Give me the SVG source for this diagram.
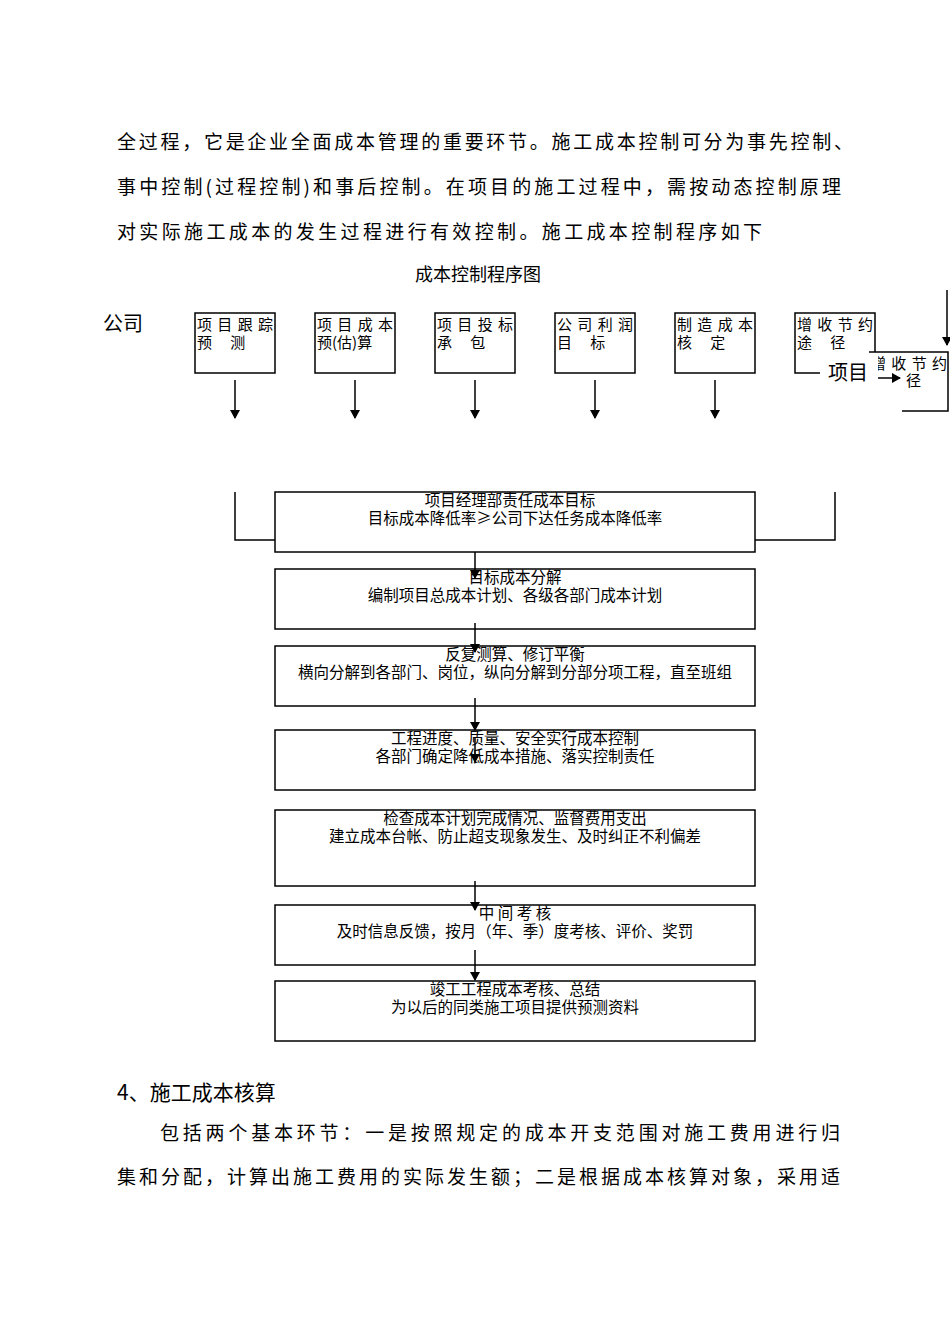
<svg xmlns="http://www.w3.org/2000/svg" width="950" height="1344" viewBox="0 0 950 1344">
<style>
text{font-family:"Noto Sans CJK SC","Noto Sans",sans-serif;fill:#000}
.p{font-size:19px}
.s{font-size:15px}
.c{font-size:15.5px;text-anchor:middle}
.b{fill:#fff;stroke:#000;stroke-width:1.5}
.l{fill:none;stroke:#000;stroke-width:1.5}
</style>
<defs><marker id="a" markerWidth="10" markerHeight="10" refX="8" refY="5" orient="auto" markerUnits="userSpaceOnUse"><path d="M0,0L9,5L0,10z"/></marker></defs>
<text class="p" x="117" y="149" textLength="736">全过程，它是企业全面成本管理的重要环节。施工成本控制可分为事先控制、</text>
<text class="p" x="117" y="194" textLength="724">事中控制(过程控制)和事后控制。在项目的施工过程中，需按动态控制原理</text>
<text class="p" x="117" y="239" textLength="645">对实际施工成本的发生过程进行有效控制。施工成本控制程序如下</text>
<text x="478" y="281" style="font-size:18px;text-anchor:middle">成本控制程序图</text>
<text x="103" y="331" style="font-size:20px">公司</text>
<g id="top1"><rect class="b" x="195" y="313" width="80" height="60"/><text class="s" x="197" y="330" textLength="76">项目跟踪</text><text class="s" x="197" y="348">预　 测</text></g>
<g id="top2"><rect class="b" x="315" y="313" width="80" height="60"/><text class="s" x="317" y="330" textLength="76">项目成本</text><text class="s" x="317" y="348">预(估)算</text></g>
<g id="top3"><rect class="b" x="435" y="313" width="80" height="60"/><text class="s" x="437" y="330" textLength="76">项目投标</text><text class="s" x="437" y="348">承　 包</text></g>
<g id="top4"><rect class="b" x="555" y="313" width="80" height="60"/><text class="s" x="557" y="330" textLength="76">公司利润</text><text class="s" x="557" y="348">目　 标</text></g>
<g id="top5"><rect class="b" x="675" y="313" width="80" height="60"/><text class="s" x="677" y="330" textLength="76">制造成本</text><text class="s" x="677" y="348">核　 定</text></g>
<g id="top6"><path class="l" d="M875,352V313H795V373H820"/><text class="s" x="797" y="330" textLength="76">增收节约</text><text class="s" x="797" y="348">途　 径</text></g>
<g id="top7"><path class="l" d="M869,352H948V411H902"/><text class="s" x="871" y="369" textLength="76">增收节约</text><text class="s" x="906" y="386">径</text><rect x="826" y="356" width="52" height="28" fill="#fff"/><text x="828" y="380" style="font-size:20px">项目</text></g>
<g id="m1"><rect class="b" x="275" y="492" width="480" height="60"/><text class="c" x="510" y="506">项目经理部责任成本目标</text><text class="c" x="515" y="524">目标成本降低率≥公司下达任务成本降低率</text></g>
<g id="m2"><rect class="b" x="275" y="569" width="480" height="60"/><text class="c" x="515" y="583">目标成本分解</text><text class="c" x="515" y="601">编制项目总成本计划、各级各部门成本计划</text></g>
<g id="m3"><rect class="b" x="275" y="646" width="480" height="60"/><text class="c" x="515" y="660">反复测算、修订平衡</text><text class="c" x="515" y="678">横向分解到各部门、岗位，纵向分解到分部分项工程，直至班组</text></g>
<g id="m4"><rect class="b" x="275" y="730" width="480" height="60"/><text class="c" x="515" y="744">工程进度、质量、安全实行成本控制</text><text class="c" x="515" y="762">各部门确定降低成本措施、落实控制责任</text></g>
<g id="m5"><rect class="b" x="275" y="810" width="480" height="76"/><text class="c" x="515" y="824">检查成本计划完成情况、监督费用支出</text><text class="c" x="515" y="842">建立成本台帐、防止超支现象发生、及时纠正不利偏差</text></g>
<g id="m6"><rect class="b" x="275" y="905" width="480" height="60"/><text class="c" x="515" y="919">中 间 考 核</text><text class="c" x="515" y="937">及时信息反馈，按月（年、季）度考核、评价、奖罚</text></g>
<g id="m7"><rect class="b" x="275" y="981" width="480" height="60"/><text class="c" x="515" y="995">竣工工程成本考核、总结</text><text class="c" x="515" y="1013">为以后的同类施工项目提供预测资料</text></g>
<g id="connectors" class="l" marker-end="url(#a)">
<path d="M235,380V418"/><path d="M355,380V418"/><path d="M475,380V418"/><path d="M595,380V418"/><path d="M715,380V418"/>
<path d="M947,290V345"/><path d="M878,378H900"/>
<path d="M475,552V578"/><path d="M475,623V652"/><path d="M475,698V730"/><path d="M475,738V762"/>
<path d="M475,881V910"/><path d="M475,950V980"/>
<path d="M235,492V540H275" marker-end="none"/><path d="M835,492V540H755" marker-end="none"/>
</g>
<text x="117" y="1100" style="font-size:21px">4、施工成本核算</text>
<text class="p" x="160" y="1140" textLength="680">包括两个基本环节：一是按照规定的成本开支范围对施工费用进行归</text>
<text class="p" x="117" y="1184" textLength="723">集和分配，计算出施工费用的实际发生额；二是根据成本核算对象，采用适</text>
</svg>
